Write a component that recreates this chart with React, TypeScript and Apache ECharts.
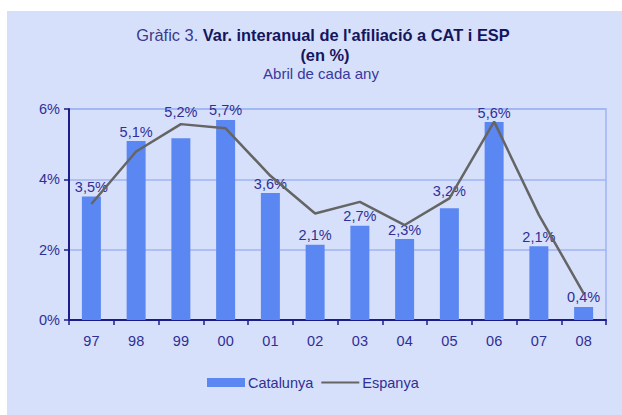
import React, { useEffect, useRef } from "react";
import * as echarts from "echarts";

const years = ["97", "98", "99", "00", "01", "02", "03", "04", "05", "06", "07", "08"];
const catalunya = [3.51, 5.09, 5.17, 5.69, 3.61, 2.14, 2.68, 2.3, 3.18, 5.63, 2.1, 0.37];
const espanya = [3.3, 4.79, 5.57, 5.45, 4.1, 3.03, 3.36, 2.7, 3.46, 5.64, 2.99, 0.76];
const yTicks = [0, 2, 4, 6];

const FONT = "'Liberation Sans', Arial, Helvetica, sans-serif";
const NAVY = "#2f2f96";

export default function App() {
  const ref = useRef<HTMLDivElement>(null);
  useEffect(() => {
    if (!ref.current) return;
    const chart = echarts.init(ref.current, undefined, { renderer: "svg" });
    const lift = [0, 0, 17, 0, 0, 0, 0, 0, 8, 0, 0, 0];
    chart.setOption({
      animation: false,
      textStyle: { fontFamily: FONT },
      graphic: [
        {
          type: "text",
          x: 323,
          y: 35,
          style: {
            text: "{a|Gràfic 3. }{b|Var. interanual de l'afiliació a CAT i ESP}",
            align: "center",
            verticalAlign: "middle",
            rich: {
              a: { fontFamily: FONT, fontSize: 16.4, fill: "#3a3a8c", fontWeight: "normal" },
              b: { fontFamily: FONT, fontSize: 16.4, fill: "#15155e", fontWeight: "bold" },
            },
          },
        },
        {
          type: "text",
          x: 325,
          y: 55,
          style: {
            text: "(en %)",
            align: "center",
            verticalAlign: "middle",
            fontFamily: FONT,
            fontSize: 16.4,
            fontWeight: "bold",
            fill: "#15155e",
          },
        },
        {
          type: "text",
          x: 321,
          y: 73,
          style: {
            text: "Abril de cada any",
            align: "center",
            verticalAlign: "middle",
            fontFamily: FONT,
            fontSize: 15,
            fill: "#3838a0",
          },
        },
      ],
      grid: {
        left: 69,
        right: 16,
        top: 109,
        bottom: 95,
        show: true,
        borderColor: "#9fb4f3",
        borderWidth: 1.5,
        backgroundColor: "transparent",
      },
      legend: {
        top: 370,
        left: 202,
        itemWidth: 38,
        itemHeight: 9,
        itemGap: 7,
        textStyle: { fontFamily: FONT, fontSize: 14.5, color: NAVY, padding: [0, 0, 0, -2] },
        data: [
          { name: "Catalunya", icon: "rect" },
          { name: "Espanya", itemStyle: { opacity: 0 } },
        ],
      },
      xAxis: {
        type: "category",
        data: years,
        boundaryGap: true,
        axisLine: { lineStyle: { color: "#1c1c8a", width: 2 } },
        axisTick: { show: true, length: 5, lineStyle: { color: "#1c1c8a", width: 1.5 } },
        axisLabel: { fontFamily: FONT, fontSize: 14.5, color: NAVY, margin: 13 },
      },
      yAxis: {
        type: "value",
        min: yTicks[0],
        max: yTicks[yTicks.length - 1],
        interval: 2,
        axisLine: { show: true, lineStyle: { color: "#1c1c8a", width: 2 } },
        axisTick: { show: true, length: 5, lineStyle: { color: "#1c1c8a", width: 1.5 } },
        axisLabel: { fontFamily: FONT, fontSize: 14.5, color: NAVY, margin: 9, formatter: "{value}%" },
        splitLine: { lineStyle: { color: "#9fb4f3", width: 1.5 } },
      },
      series: [
        {
          name: "Catalunya",
          type: "bar",
          barWidth: 19,
          itemStyle: { color: "#5b87f2" },
          data: catalunya.map((v, i) => ({
            value: v,
            label: { offset: [0, -lift[i]] },
          })),
          label: {
            show: true,
            position: "top",
            distance: 2,
            fontFamily: FONT,
            fontSize: 14.5,
            color: NAVY,
            formatter: (p: any) => p.value.toFixed(1).replace(".", ",") + "%",
          },
          z: 2,
        },
        {
          name: "Espanya",
          type: "line",
          data: espanya,
          symbol: "none",
          showSymbol: false,
          lineStyle: { color: "#656565", width: 2.5 },
          itemStyle: { color: "#656565" },
          z: 3,
        },
      ],
    });
    return () => chart.dispose();
  }, []);

  return (
    <div style={{ position: "fixed", left: 0, top: 0, width: 622, height: 415, background: "#ffffff" }}>
      <div style={{ position: "absolute", left: 7, top: 11, right: 0, bottom: 0, background: "#d7e0fa" }} />
      <div ref={ref} style={{ position: "absolute", left: 0, top: 0, width: 622, height: 415 }} />
    </div>
  );
}
